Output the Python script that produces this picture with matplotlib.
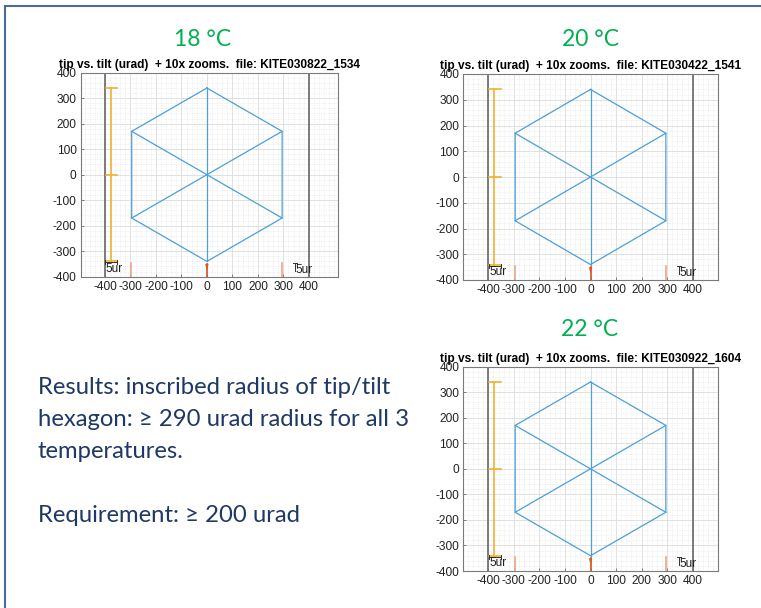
import matplotlib
matplotlib.use("Agg")
import matplotlib.pyplot as plt
from matplotlib.ticker import MultipleLocator
from matplotlib.lines import Line2D

plt.rcParams["axes.unicode_minus"] = False

# ---------------- data ----------------
temps = ["18 °C", "20 °C", "22 °C"]
files = ["KITE030822_1534", "KITE030422_1541", "KITE030922_1604"]

# hexagon vertices (urad), traversed around, and spokes through centre
hex_x = [0, 295, 295, 0, -295, -295, 0]
hex_y = [340, 170, -170, -340, -170, 170, 340]
spoke_x = [[0, 0], [-295, 295], [295, -295]]
spoke_y = [[340, -340], [170, -170], [170, -170]]

# orange zoom error bar (x position, y levels)
bar_x = -377
bar_levels = [340, 0, -340]

# red zoom marks at bottom
mark_x = [-296, 0, 295]

ticks = [-400, -300, -200, -100, 0, 100, 200, 300, 400]

xlims = [(-495, 513), (-498, 498), (-498, 498)]

# ---------------- figure ----------------
fig = plt.figure(figsize=(7.61, 6.08), dpi=100)

# slide border
fig.add_artist(Line2D([5/761, 1.0], [1-6/608, 1-6/608], transform=fig.transFigure,
                      color="#4a6c9b", lw=1.5))
fig.add_artist(Line2D([5/761, 5/761], [0, 1-6/608], transform=fig.transFigure,
                      color="#4a6c9b", lw=1.5))

positions = [
    [80.7/761, 1-276.7/608, 257/761, 204/608],
    [463.3/761, 1-280/608, 254.4/761, 206/608],
    [463.3/761, 1-571/608, 254.4/761, 204.3/608],
]
heading_pos = [(203, 40), (590, 40), (590, 330)]

for i in range(3):
    ax = fig.add_axes(positions[i])
    ax.set_xlim(*xlims[i])
    ax.set_ylim(-400, 400)
    ax.set_xticks(ticks)
    ax.set_yticks(ticks)
    ax.xaxis.set_minor_locator(MultipleLocator(20))
    ax.yaxis.set_minor_locator(MultipleLocator(20))
    ax.grid(True, which="major", color="#dcdcdc", lw=0.6, zorder=0)
    ax.grid(True, which="minor", color="#e4e4e4", lw=0.5, ls=(0, (1, 1.5)), zorder=0)
    ax.set_axisbelow(True)
    ax.tick_params(which="both", direction="in", length=2.5, width=0.5, colors="#555555",
                   labelcolor="#222222", pad=3)
    ax.tick_params(which="minor", length=0)
    for lab in ax.get_xticklabels() + ax.get_yticklabels():
        lab.set_fontfamily("Liberation Sans")
        lab.set_fontsize(8.6)
    for s in ax.spines.values():
        s.set_color("#7a7a7a")
        s.set_linewidth(0.8)

    # gray square frame at +-400
    ax.plot([-400, -400], [-400, 400], color="#727272", lw=1.3, zorder=2)
    ax.plot([400, 400], [-400, 400], color="#727272", lw=1.3, zorder=2)

    # hexagon and spokes
    ax.plot(hex_x, hex_y, color="#4d9fd8", lw=0.9, zorder=3)
    for sx, sy in zip(spoke_x, spoke_y):
        ax.plot(sx, sy, color="#4d9fd8", lw=0.9, zorder=3)

    # orange error bar
    ax.plot([bar_x, bar_x], [bar_levels[0], bar_levels[-1]], color="#f0b030", lw=1.2, zorder=3)
    for lv in bar_levels:
        ax.plot([-397, -352], [lv, lv], color="#f0b030", lw=1.2, zorder=3)

    # black scale bracket (left) and T (right)
    ax.plot([-398, -351], [-344, -344], color="#333333", lw=0.7, zorder=4)
    ax.plot([-398, -398], [-336, -352], color="#333333", lw=0.7, zorder=4)
    ax.plot([-351, -351], [-336, -352], color="#333333", lw=0.7, zorder=4)
    ax.text(-397, -370, "5ur", fontsize=8.6, family="Liberation Sans", va="center",
            ha="left", color="#222222", zorder=5)
    ax.plot([337, 353], [-347, -347], color="#333333", lw=0.7, zorder=4)
    ax.plot([345, 345], [-347, -378], color="#333333", lw=0.7, zorder=4)
    ax.text(348, -373, "5ur", fontsize=8.6, family="Liberation Sans", va="center",
            ha="left", color="#222222", zorder=5)

    # red marks
    for mx in mark_x:
        if mx == 0:
            ax.fill([mx - 7, mx + 7, mx], [-350, -350, -375], color="#e07040", lw=0, zorder=4)
            ax.plot([mx, mx], [-350, -400], color="#d95319", lw=1.2, zorder=4)
        else:
            ax.plot([mx, mx], [-345, -400], color="#f0a585", lw=1.2, zorder=4)

    ax.set_title(f"tip vs. tilt (urad)  + 10x zooms.  file: {files[i]}",
                 fontsize=8.6, fontweight="bold", family="Liberation Sans", pad=3.5)

    hx, hy = heading_pos[i]
    fig.text(hx/761, 1-hy/608, temps[i], fontsize=16.5, color="#00b050",
             family=["Lato", "DejaVu Sans"], ha="center", va="center")

body = ["Results: inscribed radius of tip/tilt",
        "hexagon: \u2265 290 urad radius for all 3",
        "temperatures.",
        "",
        "Requirement: \u2265 200 urad"]
ys = [387, 419, 451, 483, 515]
for line, y in zip(body, ys):
    if line:
        fig.text(38/761, 1-y/608, line, fontsize=17.2, color="#1f3864",
                 family=["Lato", "DejaVu Sans"], ha="left", va="center")

fig.savefig("out.png", dpi=100)
